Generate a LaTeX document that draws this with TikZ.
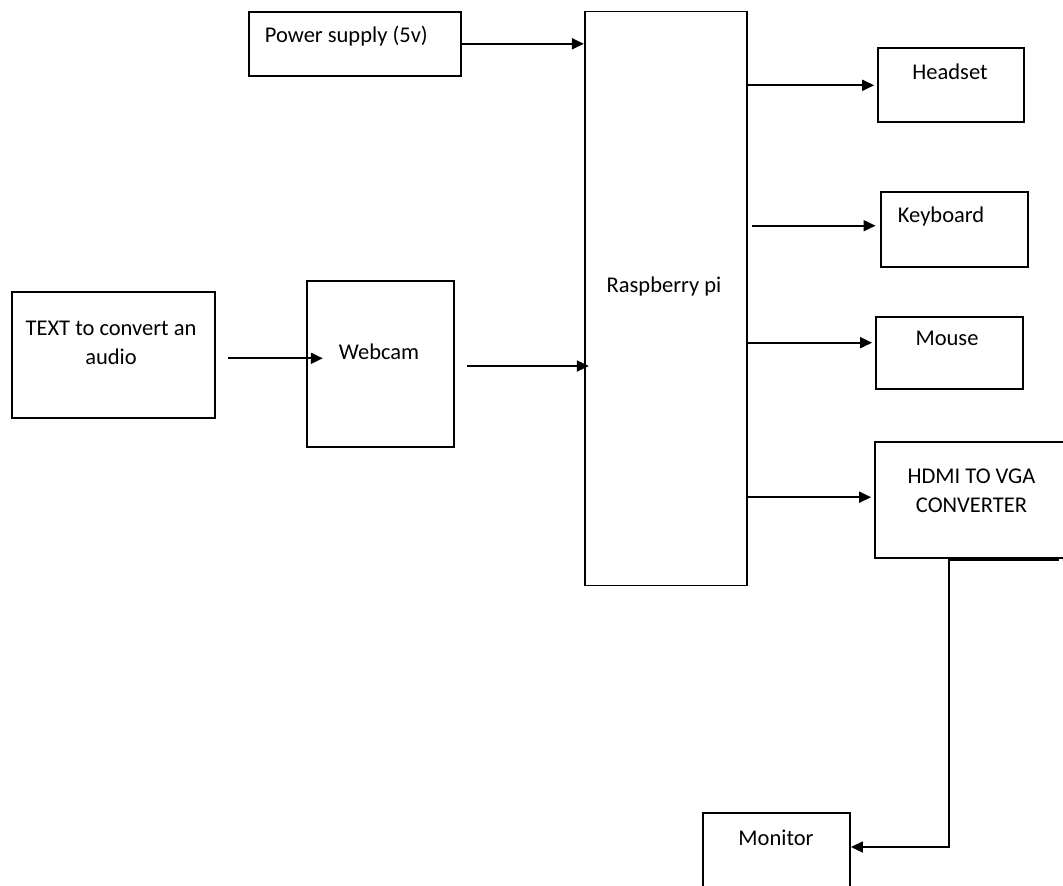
\documentclass[tikz,border=0pt]{standalone}
\usepackage{fontspec}
\setmainfont{Carlito}
\usetikzlibrary{arrows.meta}

\begin{document}
\begin{tikzpicture}[
        x=1pt, y=-1pt,
        line width=1.8pt,
        >={Triangle[length=12pt,width=11pt]},
        block/.style={
            rectangle,
            draw,
            inner sep=0pt,
        },
        caption/.style={
            anchor=base,
            inner sep=0pt,
            font=\fontsize{22.5}{29}\selectfont,
        },
    ]

    \useasboundingbox (0,0) rectangle (1063,886);
    \clip (0,0) rectangle (1063,886);

    \node (pwr) at (355,43.8) [block, minimum width=212pt, minimum height=64pt] {};
    \node (pi) at (666,298.4) [block, minimum width=162.5pt, minimum height=574pt] {};
    \node (txt) at (113.3,355.3) [block, minimum width=203.3pt, minimum height=126pt] {};
    \node (cam) at (380.5,364) [block, minimum width=147.6pt, minimum height=166.6pt] {};
    \node (hs) at (951,85.3) [block, minimum width=146pt, minimum height=74pt] {};
    \node (kb) at (954.3,229.7) [block, minimum width=146.7pt, minimum height=74.7pt] {};
    \node (ms) at (949.3,353) [block, minimum width=146.7pt, minimum height=72.6pt] {};
    \node (hdmi) at (975,500.2) [block, minimum width=200pt, minimum height=116.3pt] {};
    \node (mon) at (776.5,886.5) [block, minimum width=147pt, minimum height=147pt] {};

    \node (pwrlbl) at (264,42.7) [caption, anchor=base west] {Power supply (5v)};
    \node (pilbl) at (664,292.7) [caption] {Raspberry pi};
    \node (txtlbl) at (111,343) [caption, anchor=center, align=center] {TEXT to convert an\\audio};
    \node (camlbl) at (379,359) [caption] {Webcam};
    \node (hslbl) at (950,79) [caption] {Headset};
    \node (kblbl) at (897,222.7) [caption, anchor=base west] {Keyboard};
    \node (mslbl) at (947,345) [caption] {Mouse};
    \node (hdmilbl) at (971.5,491) [caption, anchor=center, align=center] {HDMI TO VGA\\CONVERTER};
    \node (monlbl) at (776,845.7) [caption] {Monitor};

    \coordinate (bend) at (949,847);

    \draw [->] (pwr.east) -- (pwr.east -| pi.west);
    \draw [->] ([shift={(12,3)}]txt.east) -- ([shift={(17,3)}]txt.east -| cam.west);
    \draw [->] ([shift={(12,2)}]cam.east) -- ([shift={(5,2)}]cam.east -| pi.west);

    \draw [->] (pi.east |- hs.west) -- ([xshift=-3pt]hs.west);
    \draw [->] ([shift={(3.5,-4)}]pi.east |- kb.west) -- ([shift={(-4.5,-4)}]kb.west);
    \draw [->] ([shift={(0,-10.3)}]pi.east |- ms.west) -- ([shift={(-3,-10.3)}]ms.west);
    \draw [->] ([shift={(0,-3)}]pi.east |- hdmi.west) -- ([shift={(-3,-3)}]hdmi.west);

    \draw [->] ([shift={(-17,1)}]hdmi.south east) -| (bend) -- (mon.east |- bend);

\end{tikzpicture}
\end{document}
